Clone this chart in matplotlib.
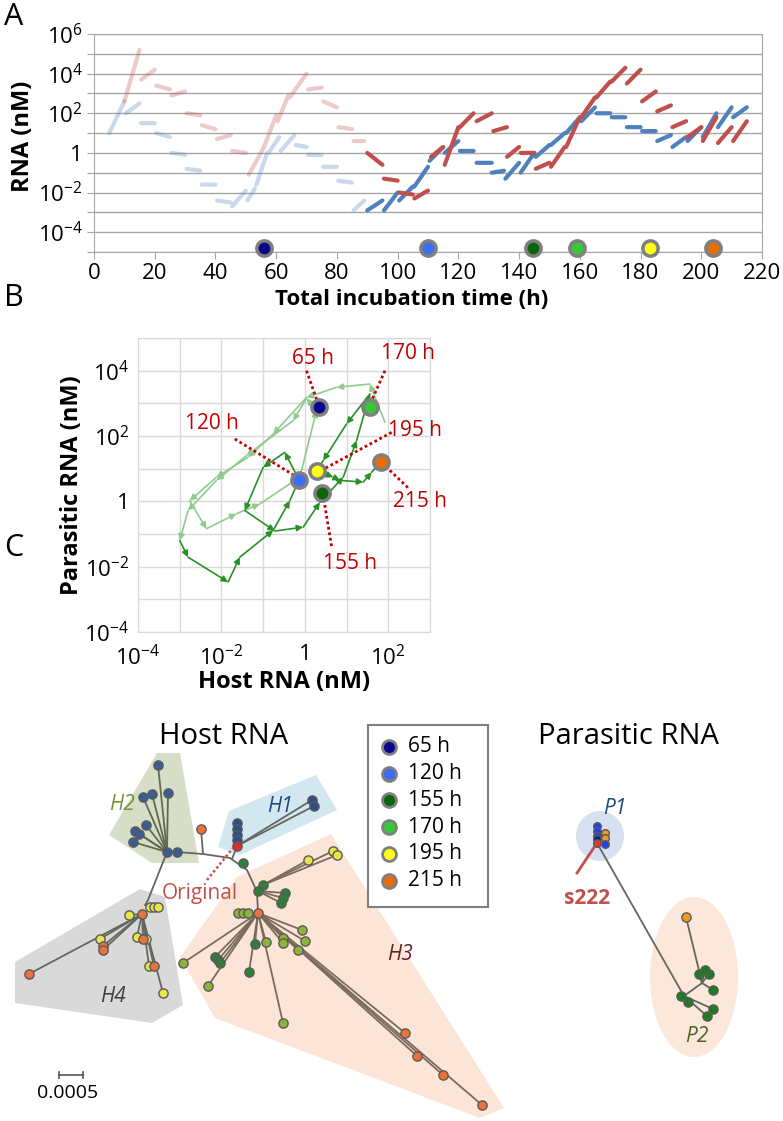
import numpy as np
import matplotlib
matplotlib.use('Agg')
import matplotlib.pyplot as plt
from matplotlib.patches import Polygon, Ellipse, Rectangle
from matplotlib.ticker import FixedLocator, FuncFormatter, NullLocator

plt.rcParams['font.family'] = ['Open Sans', 'DejaVu Sans']
plt.rcParams['mathtext.fontset'] = 'custom'
plt.rcParams['mathtext.rm'] = 'Open Sans'
plt.rcParams['mathtext.it'] = 'Open Sans:italic'
plt.rcParams['mathtext.bf'] = 'Open Sans:bold'

# ---------------- data : panel A (log10 nM), segments (t0, t1, v0, v1)
par_faded = [(10, 15, 2.6, 5.2), (15.5, 20, 3.7, 4.2), (20.5, 25, 3.4, 3.2),
             (25.5, 30, 2.9, 3.1), (30.5, 35, 2.0, 1.9), (35.5, 40, 1.4, 1.2),
             (40.5, 45, 0.7, 0.9), (45.5, 50, 0.1, 0.0), (51, 56, -1.1, 0.3),
             (56, 60, 0.3, 1.9), (60.5, 64, 1.6, 2.9), (64.5, 70, 2.8, 4.0),
             (70.5, 75, 3.2, 3.3), (75.5, 80, 2.6, 2.3), (80.5, 85, 1.3, 1.2),
             (85.5, 89, 0.6, 0.6)]
par_solid = [(90, 95, 0.0, -0.6), (95.5, 100, -1.3, -1.4), (100.5, 105, -2.0, -2.1),
             (105.5, 110, -2.3, -1.9), (111, 115, -0.2, 0.3), (115.5, 120, -0.6, 1.3),
             (120.5, 125, 1.3, 2.0), (126, 131, 1.6, 2.0), (131.5, 136, 1.1, 1.3),
             (136, 140, -0.2, 0.3), (140.5, 145, 0.0, 0.0), (145.5, 150, -0.8, -0.5),
             (150.5, 155, -0.7, 0.3), (155.5, 160, 0.3, 1.8), (160.5, 165, 1.8, 2.8),
             (165.5, 170, 2.8, 3.6), (170.5, 175, 3.6, 4.3), (175.5, 180, 3.5, 4.2),
             (180.5, 185, 2.6, 3.1), (185.5, 190, 2.1, 2.4), (190.5, 195, 1.3, 1.6),
             (195.5, 200, 0.8, 1.3), (200.5, 205, 0.6, 1.8), (205.5, 210, 0.5, 1.3),
             (210.5, 215, 0.6, 1.6)]
host_faded = [(5, 10, 1.0, 2.6), (10.5, 15, 2.0, 2.5), (15.5, 20, 1.5, 1.5),
              (20.5, 25, 1.0, 0.8), (25.5, 30, 0.0, -0.1), (30.5, 35, -0.8, -0.9),
              (35.5, 40, -1.6, -1.6), (40.5, 45, -2.4, -2.5), (45.5, 50, -2.7, -1.9),
              (50.5, 53, -2.4, -1.8), (53.5, 57, -1.6, 0.0), (57.5, 61, 0.0, 0.8),
              (61.5, 66, 0.1, 0.9), (66.5, 70, 0.4, 0.3), (70.5, 75, -0.1, -0.1),
              (75.5, 80, -0.7, -0.7), (80.5, 85, -1.4, -1.5), (85.5, 89, -2.9, -2.4)]
host_solid = [(90, 95, -2.9, -2.4), (95.5, 100, -2.9, -2.0), (100.5, 105, -2.4, -1.7),
              (105.5, 110, -1.7, -0.7), (110.5, 115, -0.4, 0.3), (115.5, 120, 0.0, 0.6),
              (120.5, 125, 0.1, 0.1), (126, 131, -0.5, -0.5), (131, 135, -1.0, -0.9),
              (135.5, 140, -1.3, -0.5), (140.5, 145, -1.0, 0.0), (145.5, 150, -0.2, 0.4),
              (150.5, 155, 0.4, 1.0), (155.5, 160, 1.0, 1.8), (160.5, 165, 1.6, 2.3),
              (165.5, 170, 2.0, 2.0), (170.5, 175, 1.8, 1.8), (175.5, 180, 1.3, 1.3),
              (180.5, 185, 1.1, 1.1), (185.5, 190, 0.6, 0.9), (190.5, 195, 0.3, 0.8),
              (195.5, 200, 0.6, 1.3), (200.5, 205, 0.8, 2.0), (205.5, 210, 1.3, 2.3),
              (210.5, 215, 1.8, 2.3)]

sample_labels = ['65 h', '120 h', '155 h', '170 h', '195 h', '215 h']
sample_colors = ['#08088C', '#3B6EF5', '#0B650B', '#37C837', '#FFFF14', '#E46C0A']
sample_time_a = [56, 110, 144.5, 159, 183, 204]

# ---------------- data : panel B (log10 nM)
light_host = [1.92, 1.56, 0.76, 0.04, -0.76, -1.36, -2.12, -2.76, -2.36, -1.64, -1.08,
              -0.12, 0.28, 0.04, -0.28, -1.4, -2.12, -2.8, -3.0]
light_par = [2.42, 3.59, 3.49, 3.18, 2.06, 1.35, 0.74, 0.02, -0.84, -0.38, -0.08,
             0.74, 2.78, 3.15, 2.47, 1.4, 0.64, -0.28, -1.2]
dark_host = [-3.0, -2.8, -1.84, -1.56, -0.76, -0.36, -0.14, -0.48, -1.0, -1.44, -0.72,
             -0.04, 0.36, 0.92, 1.24, 1.56, 1.0, 0.44, 0.3, 0.68, 0.84, 1.4, 1.6, 1.82]
dark_par = [-1.2, -1.71, -2.47, -1.71, -0.89, 0.02, 0.66, 1.5, 1.04, -0.28, -0.91,
            -0.79, -0.03, 0.74, 1.86, 3.29, 2.37, 1.25, 0.94, 0.74, 0.64, 0.59, 0.89, 1.2]
sample_host_b = [0.34, -0.14, 0.42, 1.56, 0.3, 1.82]
sample_par_b = [2.88, 0.66, 0.26, 2.9, 0.94, 1.2]

# ---------------- data : panel C trees (layout units, y down)
backbone_x = [145, 148, 167, 177, 203, 230, 247, 253, 257, 258]
backbone_y = [905, 900, 852, 852, 854, 858, 870, 883, 892, 913]
h2_hub = (167, 852)
h2_tip_x = [158, 143, 152, 168, 146, 135, 139, 133]
h2_tip_y = [765, 797, 794, 793, 825, 831, 834, 842]
h1_root = (237, 846)
h1_stack_y = [823, 829, 835, 840]
h1_tip_x = [312, 314]
h1_tip_y = [800, 806]
h3_hub = (258, 913)
h3_olive_x = [183, 208, 266, 283, 283, 302, 305, 298, 283, 238, 243, 248]
h3_olive_y = [963, 986, 942, 938, 943, 930, 941, 950, 1023, 913, 913, 913]
h3_dkgreen_x = [215, 218, 220, 249, 255]
h3_dkgreen_y = [957, 960, 963, 972, 944]
h3_orange_x = [405, 417, 443, 482]
h3_orange_y = [1033, 1056, 1075, 1105]
h3_yellow_x = [308, 333, 337]
h3_yellow_y = [860, 851, 855]
h3_side_x = [285, 283, 281]
h3_side_y = [893, 898, 903]
h4_hub = (142, 914)
h4_yellow_x = [129, 100, 137, 146, 149, 163]
h4_yellow_y = [915, 939, 937, 939, 966, 993]
h4_orange_x = [103, 103, 29, 143, 154]
h4_orange_y = [946, 950, 974, 939, 966]
h4_top_x = [150, 154, 158]
p1_blue_y = [826, 831, 836]
p2_hub = (684, 996)
p2_node = (702, 983)
p2_tip_x = [699, 709, 705, 713, 713, 707]
p2_tip_y = [974, 974, 970, 990, 1009, 1016]

W, H = 783, 1121
fig = plt.figure(figsize=(W / 100, H / 100), dpi=100)


def box(x0, y0, x1, y1):
    return [x0 / W, 1 - y1 / H, (x1 - x0) / W, (y1 - y0) / H]


def pow_label(v, pos):
    k = int(round(np.log10(v)))
    if k == 0:
        return '1'
    return r'$\mathregular{10^{%d}}$' % k


def seg_line(segs):
    t, v = [], []
    for t0, t1, v0, v1 in segs:
        t += [t0, t1, np.nan]
        v += [10.0 ** v0, 10.0 ** v1, np.nan]
    return t, v


RED = '#C0504D'
BLUE = '#4F81BD'
GRID = '#A6A6A6'

# ================= Panel A
ax = fig.add_axes(box(94, 34, 762, 252))
ax.set_yscale('log')
ax.set_xlim(0, 220)
ax.set_ylim(1e-5, 1e6)
ax.set_xticks(range(0, 221, 20))
ax.yaxis.set_major_locator(FixedLocator([10.0 ** k for k in range(-5, 7)]))
ax.yaxis.set_minor_locator(NullLocator())
ax.yaxis.set_major_formatter(FuncFormatter(
    lambda v, p: pow_label(v, p) if int(round(np.log10(v))) % 2 == 0 and v > 1e-5 else ''))
ax.grid(axis='y', color=GRID, lw=1)
for s in ax.spines.values():
    s.set_color(GRID)
ax.tick_params(colors=GRID, labelcolor='black', labelsize=16, length=5, pad=3)

for segs, col, al in [(host_faded, BLUE, 0.3), (par_faded, RED, 0.3),
                      (host_solid, BLUE, 1), (par_solid, RED, 1)]:
    t, v = seg_line(segs)
    ax.plot(t, v, color=col, alpha=al, lw=3, solid_capstyle='round')

for t, c in zip(sample_time_a, sample_colors):
    ax.plot(t, 10 ** -4.8, 'o', ms=11, mfc=c, mec='#7F7F7F', mew=2.5,
            clip_on=False, zorder=5)

ax.set_xlabel('Total incubation time (h)', fontsize=16, fontweight='bold')
ax.xaxis.set_label_coords((412 - 94) / (762 - 94), -0.17)
ax.set_ylabel('RNA (nM)', fontsize=17, fontweight='bold', labelpad=4)
ax.yaxis.set_label_coords(-0.088, 0.53)

# ================= Panel B
bx = fig.add_axes(box(138, 338, 430, 632))
bx.set_xscale('log')
bx.set_yscale('log')
bx.set_xlim(1e-4, 1e3)
bx.set_ylim(1e-4, 1e5)
bx.xaxis.set_major_locator(FixedLocator([10.0 ** k for k in range(-4, 4)]))
bx.yaxis.set_major_locator(FixedLocator([10.0 ** k for k in range(-4, 6)]))
bx.xaxis.set_minor_locator(NullLocator())
bx.yaxis.set_minor_locator(NullLocator())
bx.xaxis.set_major_formatter(FuncFormatter(
    lambda v, p: pow_label(v, p) if int(round(np.log10(v))) % 2 == 0 and v < 1e3 else ''))
bx.yaxis.set_major_formatter(FuncFormatter(
    lambda v, p: pow_label(v, p) if int(round(np.log10(v))) % 2 == 0 else ''))
bx.grid(color='#D9D9D9', lw=1)
for s in bx.spines.values():
    s.set_color('#D9D9D9')
bx.tick_params(length=0, labelsize=16)
bx.tick_params(axis='x', pad=9)
bx.tick_params(axis='y', pad=6)
bx.set_xlabel('Host RNA (nM)', fontsize=17, fontweight='bold', labelpad=0)
bx.set_ylabel('Parasitic RNA (nM)', fontsize=17, fontweight='bold', labelpad=0)

for hs, ps, col in [(light_host, light_par, '#8FCB8F'), (dark_host, dark_par, '#269126')]:
    for i in range(len(hs) - 1):
        bx.annotate('', xy=(10 ** hs[i + 1], 10 ** ps[i + 1]),
                    xytext=(10 ** hs[i], 10 ** ps[i]),
                    arrowprops=dict(arrowstyle='-|>', color=col, lw=1.2,
                                    mutation_scale=9, shrinkA=0, shrinkB=0))

for h, p, c in zip(sample_host_b, sample_par_b, sample_colors):
    bx.plot(10 ** h, 10 ** p, 'o', ms=11, mfc=c, mec='#7F7F7F', mew=2.5, zorder=6)

# labels (log coords) and dotted leaders
lab_pos = [(0.19, 4.37), (-2.23, 2.37), (1.08, -1.89), (2.47, 4.52), (2.63, 2.16), (2.76, 0.01)]
lead = [((0.04, 4.0), (0.32, 2.99)), ((-1.68, 1.91), (-0.24, 0.78)),
        ((0.64, -1.37), (0.44, 0.17)), ((1.92, 4.0), (1.6, 3.08)),
        ((2.08, 2.11), (0.44, 0.98)), ((2.47, 0.42), (1.92, 1.09))]
for lab, (lh, lp), (a, b) in zip(sample_labels, lab_pos, lead):
    bx.text(10 ** lh, 10 ** lp, lab, color='#C00000', fontsize=15, ha='center',
            va='center', clip_on=False)
    bx.plot([10 ** a[0], 10 ** b[0]], [10 ** a[1], 10 ** b[1]], color='#C00000',
            lw=2, ls=(0, (1, 1)), clip_on=False, zorder=5)

# ================= overlay (panel C and free text), pixel layout units
cx = fig.add_axes([0, 0, 1, 1])
cx.set_xlim(0, W)
cx.set_ylim(H, 0)
cx.axis('off')
cx.set_zorder(-1)

for lab, (x, y) in zip('ABC', [(14, 17), (14, 298), (14, 548)]):
    cx.text(x, y, lab, fontsize=22, ha='center', va='center')
cx.text(492, 85, 'Parasite', color='#C00000', fontsize=21, ha='center', va='center')
cx.text(478, 200, 'Host', color='#2E5B8E', fontsize=21, ha='center', va='center')

# shaded groups
cx.add_patch(Polygon([(157, 753), (180, 753), (199, 863), (152, 863), (109, 835)],
                     fc='#D7DEC8', ec='none', zorder=1))
cx.add_patch(Polygon([(218, 847), (229, 811), (316, 775), (337, 810), (240, 855)],
                     fc='#D3E7F0', ec='none', zorder=1))
cx.add_patch(Polygon([(237, 877), (331, 834), (504, 1108), (480, 1118), (215, 1018), (180, 957)],
                     fc='#FCE5D6', ec='none', zorder=1))
cx.add_patch(Polygon([(140, 889), (165, 897), (183, 1005), (152, 1023), (15, 1003), (15, 962)],
                     fc='#D9D9D9', ec='none', zorder=1))
cx.add_patch(Ellipse((600, 836), 48, 50, fc='#D6E0F0', ec='none', zorder=1))
cx.add_patch(Ellipse((694, 977), 88, 160, fc='#FCE8DA', ec='none', zorder=1))

LC = '#666660'
LW = 1.3
cx.plot(backbone_x, backbone_y, color=LC, lw=LW, zorder=2)
for x, y in zip(h2_tip_x, h2_tip_y):
    cx.plot([h2_hub[0], x], [h2_hub[1], y], color='#5E6B50', lw=LW, zorder=2)
cx.plot([203, 201], [854, 829], color=LC, lw=LW, zorder=2)
cx.plot([232, h1_root[0]], [859, h1_root[1]], color=LC, lw=LW, zorder=2)
cx.plot([h1_root[0]] * 2, [h1_root[1], h1_stack_y[0]], color=LC, lw=LW, zorder=2)
for x, y in zip(h1_tip_x, h1_tip_y):
    cx.plot([h1_root[0], x], [h1_root[1], y], color=LC, lw=LW, zorder=2)
for x, y in zip(h3_yellow_x, h3_yellow_y):
    cx.plot([263, x], [885, y], color='#7A6B5D', lw=LW, zorder=2)
for x, y in zip(h3_side_x, h3_side_y):
    cx.plot([258, x], [891, y], color='#7A6B5D', lw=LW, zorder=2)
for xs, ys in [(h3_olive_x, h3_olive_y), (h3_dkgreen_x, h3_dkgreen_y), (h3_orange_x, h3_orange_y)]:
    for x, y in zip(xs, ys):
        cx.plot([h3_hub[0], x], [h3_hub[1], y], color='#7A6B5D', lw=LW, zorder=2)
for xs, ys in [(h4_yellow_x, h4_yellow_y), (h4_orange_x, h4_orange_y)]:
    for x, y in zip(xs, ys):
        cx.plot([h4_hub[0], x], [h4_hub[1], y], color=LC, lw=LW, zorder=2)
for x in h4_top_x:
    cx.plot([148, x], [905, 907], color=LC, lw=LW, zorder=2)

# parasitic tree lines
cx.plot([597, p2_hub[0]], [843, p2_hub[1]], color=LC, lw=LW, zorder=2)
cx.plot([p2_hub[0], p2_node[0]], [p2_hub[1], p2_node[1]], color=LC, lw=LW, zorder=2)
for x, y in zip(p2_tip_x[:4], p2_tip_y[:4]):
    cx.plot([p2_node[0], x], [p2_node[1], y], color=LC, lw=LW, zorder=2)
for x, y in zip(p2_tip_x[4:], p2_tip_y[4:]):
    cx.plot([p2_hub[0], x], [p2_hub[1], y], color=LC, lw=LW, zorder=2)
cx.plot([p2_node[0], 686], [p2_node[1], 917], color=LC, lw=LW, zorder=2)
cx.plot([597, 577], [843, 873], color=RED, lw=2, zorder=2)


def dots(xs, ys, c, s=44):
    cx.scatter(xs, ys, s=s, c=c, edgecolors='#5A5A5A', linewidths=1, zorder=3)


OLIVE, DKG, YEL, ORG, NAVY = '#8DB33B', '#2E7F38', '#E6E64A', '#E8743B', '#3A5E92'
dots(h2_tip_x, h2_tip_y, NAVY)
dots([167, 177], [852, 852], NAVY)
dots([201], [829], ORG)
dots([237] * 4, h1_stack_y, '#2C4F8C')
dots(h1_tip_x, h1_tip_y, '#2C4F8C')
dots([237], [846], '#D9302A')
dots([243], [863], DKG)
dots([263, 258], [885, 891], DKG)
dots(h3_yellow_x, h3_yellow_y, YEL)
dots(h3_side_x, h3_side_y, DKG)
dots(h3_olive_x, h3_olive_y, OLIVE)
dots(h3_dkgreen_x, h3_dkgreen_y, DKG)
dots(h3_orange_x, h3_orange_y, ORG)
dots([h3_hub[0]], [h3_hub[1]], ORG)
dots(h4_top_x, [907] * 3, YEL)
dots(h4_yellow_x, h4_yellow_y, YEL)
dots(h4_orange_x, h4_orange_y, ORG)
dots([h4_hub[0]], [h4_hub[1]], ORG)

dots([597] * 3, p1_blue_y, '#1F3CFF', 30)
dots([597], [839], '#0A1A7A', 30)
dots([597], [843], '#E03C31', 30)
dots([605, 605], [833, 838], '#F39A1E', 30)
dots([605], [844], '#1F3CFF', 30)
dots(p2_tip_x, p2_tip_y, '#1E7B1E', 44)
dots([681, 688], [996, 1002], '#1E7B1E', 44)
dots([686], [917], '#F39A1E', 44)

# labels in panel C
cx.text(224, 736, 'Host RNA', fontsize=21, ha='center', va='center')
cx.text(628, 736, 'Parasitic RNA', fontsize=21, ha='center', va='center')
cx.text(122, 804, 'H2', fontsize=15, style='italic', color='#77933C', ha='center', va='center')
cx.text(280, 807, 'H1', fontsize=15, style='italic', color='#1F497D', ha='center', va='center')
cx.text(400, 955, 'H3', fontsize=15, style='italic', color='#632523', ha='center', va='center')
cx.text(113, 997, 'H4', fontsize=15, style='italic', color='#404040', ha='center', va='center')
cx.text(200, 893, 'Original', fontsize=15, color=RED, ha='center', va='center', zorder=4)
cx.plot([207, 233], [880, 848], color=RED, lw=1.8, ls=(0, (1, 1)), zorder=4)
cx.text(615, 808, 'P1', fontsize=15, style='italic', color='#1F497D', ha='center', va='center')
cx.text(697, 1037, 'P2', fontsize=15, style='italic', color='#4F6228', ha='center', va='center')
cx.text(587, 898, 's222', fontsize=15, fontweight='bold', color=RED, ha='center', va='center')

# scale bar
cx.plot([59, 83], [1075, 1075], color='#555555', lw=1.2)
cx.plot([59, 59], [1072, 1078], color='#555555', lw=1.2)
cx.plot([83, 83], [1072, 1078], color='#555555', lw=1.2)
cx.text(68, 1093, '0.0005', fontsize=14, ha='center', va='center')

# legend
cx.add_patch(Rectangle((368, 725), 120, 182, fc='white', ec='#7F7F7F', lw=1.5, zorder=2))
for i, (lab, c) in enumerate(zip(sample_labels, sample_colors)):
    y = 747 + i * 26.7
    cx.plot(389, y, 'o', ms=10, mfc=c, mec='#7F7F7F', mew=2, zorder=3)
    cx.text(408, y, lab, fontsize=15, ha='left', va='center', zorder=3)

fig.savefig('out.png', dpi=100)
